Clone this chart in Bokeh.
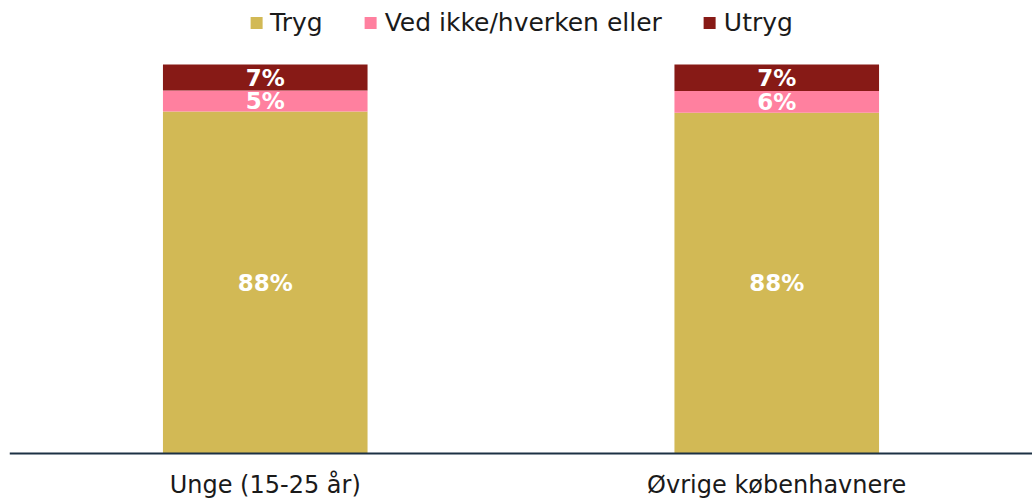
from bokeh.plotting import figure
from bokeh.models import ColumnDataSource, FactorRange, Range1d, Legend, LegendItem, Span
from bokeh.core.properties import value
from bokeh.embed import file_html
from bokeh.resources import INLINE
import numpy as np

categories = ["Unge (15-25 år)", "Øvrige københavnere"]
series = ["Tryg", "Ved ikke/hverken eller", "Utryg"]
tryg = [87.9, 87.6]
ved_ikke = [5.4, 5.6]
utryg = [6.7, 6.8]
colors = ["#D2B955", "#FF809F", "#871A16"]

FONT = "DejaVu Sans"

src = ColumnDataSource(dict(cat=categories, tryg=tryg, ved=ved_ikke, utryg=utryg))

W, H = 1032, 500
p = figure(x_range=FactorRange(*categories), y_range=Range1d(-12.08, 116.45),
           width=W, height=H, output_backend="svg", toolbar_location=None,
           min_border_left=9, min_border_right=0, min_border_top=0, min_border_bottom=0)

rs = p.vbar_stack(["tryg", "ved", "utryg"], x="cat", width=0.4, color=colors,
                  source=src, line_color=None)

# baseline axis line
p.add_layout(Span(location=0, dimension="width", line_color="#1C3144", line_width=2))

# segment labels
vals = np.array([tryg, ved_ikke, utryg])
cum = np.cumsum(vals, axis=0)
mid = cum - vals / 2
lx, ly, lt = [], [], []
for s in range(3):
    for c in range(2):
        lx.append(categories[c])
        ly.append(mid[s, c])
        lt.append(f"{round(vals[s, c]):.0f}%")
lsrc = ColumnDataSource(dict(x=lx, y=ly, t=lt))
p.text(x="x", y="y", text="t", source=lsrc, text_align="center", text_baseline="middle",
       text_color="white", text_font=value(FONT), text_font_style="bold",
       text_font_size="23px")

# category labels
csrc = ColumnDataSource(dict(x=categories, y=[-8.0] * len(categories), t=categories))
p.text(x="x", y="y", text="t", source=csrc, text_align="center", text_baseline="alphabetic",
       text_color="#1a1a1a", text_font=value(FONT), text_font_size="24px")

legend = Legend(items=[LegendItem(label=series[i], renderers=[rs[i]]) for i in range(3)],
                orientation="horizontal", location="top",
                label_text_font=FONT, label_text_font_size="25px",
                label_text_color="#1a1a1a",
                glyph_width=15, glyph_height=15, label_standoff=7, spacing=40,
                border_line_color=None, background_fill_alpha=0,
                padding=0, margin=8, label_height=22)
p.add_layout(legend, "center")

p.xaxis.visible = False
p.yaxis.visible = False
p.xgrid.grid_line_color = None
p.ygrid.grid_line_color = None
p.outline_line_color = None
p.x_range.range_padding = 0

open("out.html", "w").write(file_html(p, INLINE))
